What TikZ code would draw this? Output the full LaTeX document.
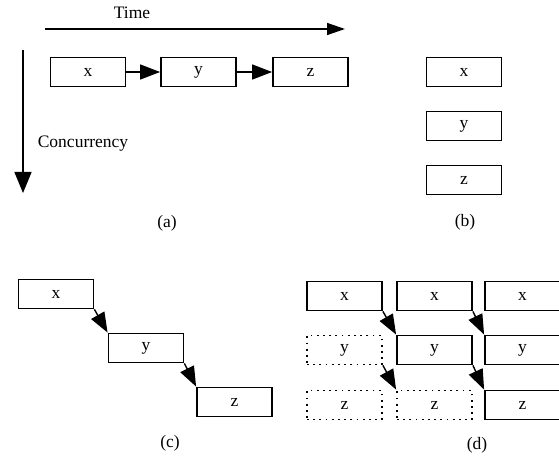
\documentclass[tikz,border=0pt]{standalone}
\usepackage{fontspec}
\setmainfont{Liberation Serif}
\usetikzlibrary{arrows.meta}

\begin{document}
\begin{tikzpicture}[x=1pt, y=-1pt, every node/.style={font=\fontsize{17.5}{20}\selectfont}, >={Triangle[length=20pt, width=15pt]},
	task/.style={draw, line width=1.8pt, minimum width=75pt, minimum height=29pt, inner sep=0pt},
	ghost/.style={task, dash pattern=on 1.8pt off 4.4pt},
	flow/.style={->, line width=1.4pt}]
	\useasboundingbox (0,0) rectangle (559,457);
	% (a) sequential
	\coordinate (t0) at (45,29);
	\coordinate (t1) at (345,29);
	\coordinate (c0) at (23,50);
	\coordinate (c1) at (23,193);
	\draw[->, line width=1.4pt, >={Triangle[length=18pt, width=12pt]}] (t0) -- (t1);
	\draw[->, line width=1.4pt, >={Triangle[length=21pt, width=17pt]}] (c0) -- (c1);
	\node (time) at (132,13) {Time};
	\node (conc) at (83,144) {Concurrency};
	\node[task] (ax) at (88,72) {x};
	\node[task] (ay) at (198.5,72) {y};
	\node[task] (az) at (310.5,72) {z};
	\draw[flow] (ax) -- (ay);
	\draw[flow] (ay) -- (az);
	\node (la) at (167,223) {(a)};
	% (b) independent
	\node[task] (bx) at (464,72) {x};
	\node[task] (by) at (464,126) {y};
	\node[task] (bz) at (464,180) {z};
	\node (lb) at (465,222) {(b)};
	% (c) staircase
	\node[task] (cx) at (56,294) {x};
	\node[task] (cy) at (146,348) {y};
	\node[task] (cz) at (234.5,402) {z};
	\draw[flow] (cx.south east) -- (cy.north west);
	\draw[flow] (cy.south east) -- (cz.north west);
	\node (lc) at (170,443) {(c)};
	% (d) pipeline
	\node[task] (d1x) at (344.5,296) {x};
	\node[ghost] (d1y) at (344.5,350) {y};
	\node[ghost] (d1z) at (344.5,405) {z};
	\node[task] (d2x) at (434.5,296) {x};
	\node[task] (d2y) at (434.5,350) {y};
	\node[ghost] (d2z) at (434.5,405) {z};
	\node[task] (d3x) at (522.5,296) {x};
	\node[task] (d3y) at (522.5,350) {y};
	\node[task] (d3z) at (522.5,405) {z};
	\draw[flow] (d1x.south east) -- (d2y.north west);
	\draw[flow] (d1y.south east) -- (d2z.north west);
	\draw[flow] (d2x.south east) -- (d3y.north west);
	\draw[flow] (d2y.south east) -- (d3z.north west);
	\node (ld) at (477,445) {(d)};
\end{tikzpicture}
\end{document}
